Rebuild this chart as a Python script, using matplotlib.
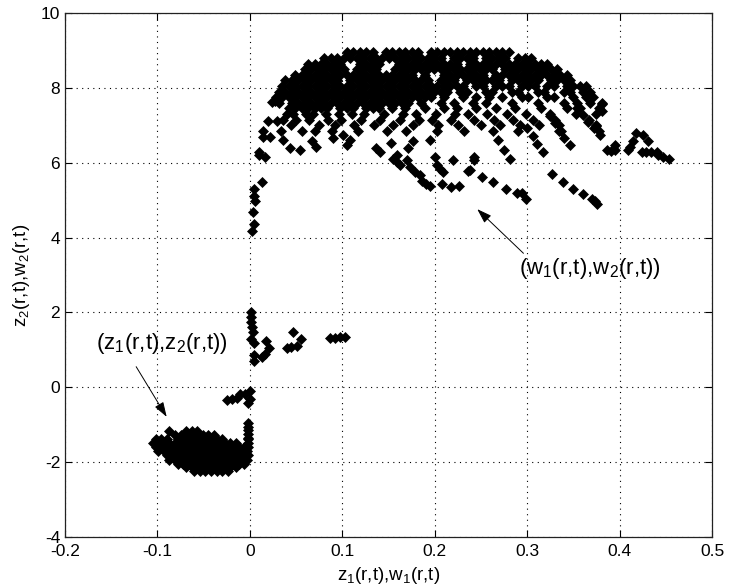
import matplotlib
matplotlib.use("Agg")
import matplotlib.pyplot as plt

plt.rcParams['font.family'] = ['Liberation Sans', 'DejaVu Sans']
plt.rcParams['mathtext.default'] = 'regular'

# ---------------- data ----------------
# upper cloud (w1, w2): rows of points, y value -> x values
upper_rows_y = [8.95, 8.80, 8.65, 8.50, 8.35, 8.20, 8.05, 7.90, 7.75, 7.60, 7.45, 7.30, 7.15, 7.00, 6.85]
upper_row_895 = [0.105, 0.112, 0.119, 0.126, 0.133, 0.147, 0.154, 0.161, 0.168, 0.175, 0.182, 0.196, 0.203,
                 0.210, 0.217, 0.224, 0.231, 0.238, 0.245, 0.252, 0.259, 0.266, 0.273, 0.280]
upper_row_880 = [0.0805, 0.0875, 0.0945, 0.1015, 0.1085, 0.1155, 0.1225, 0.1295, 0.1365, 0.1435, 0.1505,
                 0.1575, 0.1645, 0.1715, 0.1785, 0.1855, 0.1925, 0.1995, 0.2065, 0.2205, 0.2275,
                 0.2345, 0.2415, 0.2555, 0.2625, 0.2695, 0.2765, 0.2905, 0.2975, 0.3045]
upper_row_865 = [0.063, 0.070, 0.077, 0.084, 0.091, 0.098, 0.119, 0.126, 0.133, 0.140, 0.161,
                 0.168, 0.175, 0.182, 0.189, 0.196, 0.203, 0.210, 0.217, 0.224, 0.238, 0.245, 0.252, 0.259,
                 0.266, 0.273, 0.280, 0.287, 0.294, 0.301, 0.308, 0.315, 0.322]
upper_row_850 = [0.0595, 0.0665, 0.0735, 0.0805, 0.0875, 0.0945, 0.1015, 0.1155, 0.1225, 0.1295, 0.1365,
                 0.1575, 0.1645, 0.1715, 0.1785, 0.1855, 0.1925, 0.1995, 0.2065, 0.2135,
                 0.2205, 0.2275, 0.2345, 0.2415, 0.2485, 0.2555, 0.2625, 0.2765, 0.2835, 0.2905, 0.2975,
                 0.3045, 0.3115, 0.3185, 0.3255, 0.3325]
upper_row_835 = [0.049, 0.056, 0.063, 0.070, 0.077, 0.084, 0.091, 0.098, 0.105, 0.112, 0.119, 0.126, 0.133,
                 0.140, 0.147, 0.154, 0.161, 0.168, 0.175, 0.189, 0.210, 0.217, 0.224, 0.231,
                 0.238, 0.245, 0.252, 0.266, 0.273, 0.280, 0.287, 0.294, 0.301, 0.308, 0.315, 0.322, 0.329,
                 0.336, 0.343]
upper_row_820 = [0.0385, 0.0455, 0.0525, 0.0595, 0.0665, 0.0735, 0.0805, 0.0875, 0.0945, 0.1085, 0.1155,
                 0.1225, 0.1295, 0.1365, 0.1435, 0.1505, 0.1575, 0.1645, 0.1715, 0.1785, 0.1855, 0.1925,
                 0.2065, 0.2135, 0.2205, 0.2345, 0.2415, 0.2485, 0.2555, 0.2625, 0.2695, 0.2835,
                 0.2905, 0.2975, 0.3045, 0.3115, 0.3255, 0.3325, 0.3395, 0.3465]
upper_row_805 = [0.035, 0.042, 0.049, 0.056, 0.063, 0.070, 0.077, 0.084, 0.091, 0.098, 0.105, 0.112, 0.119,
                 0.126, 0.133, 0.140, 0.147, 0.154, 0.161, 0.168, 0.175, 0.182, 0.189, 0.196, 0.203, 0.210,
                 0.217, 0.224, 0.231, 0.245, 0.252, 0.266, 0.273, 0.280, 0.294, 0.301, 0.308, 0.322, 0.329,
                 0.343, 0.350, 0.357, 0.364]
upper_row_790 = [0.0315, 0.0385, 0.0455, 0.0525, 0.0595, 0.0665, 0.0735, 0.0805, 0.0875, 0.0945, 0.1015,
                 0.1085, 0.1155, 0.1225, 0.1295, 0.1365, 0.1435, 0.1505, 0.1575, 0.1645, 0.1715, 0.1785,
                 0.1855, 0.1925, 0.1995, 0.2065, 0.2135, 0.2275, 0.2345, 0.2555, 0.2625, 0.2835, 0.2905,
                 0.3115, 0.3185, 0.3395, 0.3465, 0.3605, 0.3675]
upper_row_775 = [0.028, 0.035, 0.042, 0.049, 0.056, 0.063, 0.070, 0.077, 0.084, 0.091, 0.098, 0.105, 0.112,
                 0.119, 0.126, 0.133, 0.140, 0.147, 0.154, 0.161, 0.168, 0.175, 0.182, 0.189, 0.196, 0.210,
                 0.231, 0.245, 0.259, 0.273, 0.294, 0.301, 0.322, 0.329, 0.350, 0.364, 0.371]
upper_row_760 = [0.0315, 0.0455, 0.0525, 0.0595, 0.0665, 0.0735, 0.0805, 0.0875, 0.0945, 0.1015, 0.1085,
                 0.1155, 0.1225, 0.1295, 0.1365, 0.1435, 0.1505, 0.1575, 0.1645, 0.1715, 0.1855, 0.2065,
                 0.2205, 0.2415, 0.2555, 0.2835, 0.3115, 0.3395, 0.3535, 0.3675, 0.3815]
upper_row_745 = [0.042, 0.049, 0.056, 0.063, 0.070, 0.077, 0.084, 0.098, 0.105, 0.112, 0.126, 0.133, 0.140,
                 0.154, 0.168, 0.189, 0.210, 0.224, 0.245, 0.266, 0.287, 0.315, 0.343, 0.357, 0.378]
upper_row_730 = [0.040, 0.047, 0.061, 0.068, 0.082, 0.096, 0.110, 0.124, 0.145, 0.166, 0.180, 0.201, 0.222,
                 0.236, 0.257, 0.278, 0.299, 0.325, 0.353, 0.374]
upper_row_715 = [0.036, 0.050, 0.064, 0.085, 0.099, 0.120, 0.141, 0.162, 0.183, 0.197, 0.218, 0.243, 0.264,
                 0.285, 0.306, 0.330, 0.367]
upper_row_700 = [0.045, 0.075, 0.092, 0.113, 0.134, 0.155, 0.176, 0.204, 0.225, 0.250, 0.271, 0.292, 0.313,
                 0.334, 0.374]
upper_row_685 = [0.034, 0.056, 0.070, 0.089, 0.117, 0.148, 0.169, 0.202, 0.232, 0.263, 0.290, 0.337, 0.378]

# sparse points of the (w1, w2) trajectories
w_sparse_x = [0.013, 0.004, 0.004, 0.006, 0.003, 0.004, 0.002, 0.010, 0.010, 0.016, 0.014, 0.014, 0.022,
              0.020, 0.029, 0.024, 0.027, 0.033, 0.072, 0.054, 0.043, 0.036, 0.067, 0.090, 0.101, 0.108,
              0.105, 0.137, 0.141, 0.155, 0.159, 0.162, 0.170, 0.173, 0.179, 0.184, 0.186, 0.191, 0.195,
              0.200, 0.202, 0.206, 0.209, 0.208, 0.218, 0.226, 0.220, 0.242, 0.238, 0.251, 0.242, 0.195,
              0.177, 0.171, 0.153, 0.159, 0.236, 0.263, 0.277, 0.289, 0.294, 0.299, 0.327, 0.339, 0.350,
              0.360, 0.370, 0.373, 0.376, 0.325, 0.330, 0.335, 0.340, 0.346, 0.354, 0.360, 0.366, 0.372,
              0.379, 0.300, 0.306, 0.311, 0.317, 0.269, 0.275, 0.281, 0.381, 0.381, 0.375, 0.386, 0.391,
              0.395, 0.395, 0.409, 0.411, 0.415, 0.418, 0.425, 0.431, 0.424, 0.429, 0.434, 0.440, 0.442,
              0.447, 0.453]
w_sparse_y = [5.48, 5.29, 5.11, 4.99, 4.69, 4.36, 4.17, 6.29, 6.21, 6.16, 6.70, 6.84, 6.70,
              7.11, 7.11, 7.61, 7.66, 7.85, 6.43, 6.34, 6.38, 6.62, 6.57, 6.66, 6.75, 6.62,
              6.48, 6.38, 6.29, 6.11, 6.20, 5.93, 6.07, 5.89, 5.75, 5.66, 5.52, 5.43, 5.39,
              6.16, 5.93, 5.84, 5.75, 5.43, 5.34, 5.39, 6.07, 6.07, 5.80, 5.61, 6.16, 6.61,
              6.57, 6.38, 6.52, 6.02, 5.79, 5.48, 5.29, 5.18, 5.18, 5.04, 5.70, 5.48, 5.29,
              5.16, 5.02, 4.98, 4.89, 7.25, 7.05, 6.85, 6.65, 6.48, 7.47, 7.28, 7.10, 6.92,
              6.75, 6.93, 6.72, 6.50, 6.29, 6.60, 6.35, 6.11, 7.57, 7.38, 6.98, 6.34, 6.32,
              6.48, 6.34, 6.34, 6.43, 6.57, 6.80, 6.75, 6.57, 6.29, 6.29, 6.29, 6.29, 6.20,
              6.16, 6.11]

# (z1, z2): points near the origin
z_sparse_x = [0.001, 0.001, 0.001, 0.002, 0.003, 0.001, 0.005, 0.018, 0.021, 0.016, 0.013, 0.005, 0.004,
              0.047, 0.055, 0.040, 0.045, 0.051, 0.087, 0.092, 0.098, 0.103,
              -0.025, -0.019, -0.014, -0.011, -0.005, -0.002, 0.000, 0.000,
              -0.002, -0.002, -0.002, -0.002, -0.002]
z_sparse_y = [2.02, 1.89, 1.75, 1.62, 1.48, 1.28, 1.17, 1.23, 1.04, 0.90, 0.80, 0.85, 0.71,
              1.48, 1.28, 1.04, 1.07, 1.10, 1.32, 1.32, 1.34, 1.35,
              -0.34, -0.31, -0.29, -0.19, -0.19, -0.43, -0.11, -0.30,
              -0.95, -1.05, -1.15, -1.25, -1.35]

# (z1, z2): dense blob, rows of points
blob_rows_y = [-1.17, -1.27, -1.38, -1.49, -1.60, -1.71, -1.82, -1.93, -2.04, -2.14, -2.24]
blob_row_117 = [-0.088, -0.069, -0.063, -0.057]
blob_row_127 = [-0.081, -0.075, -0.069, -0.063, -0.057, -0.051, -0.045, -0.039]
blob_row_138 = [-0.102, -0.096, -0.090, -0.078, -0.072, -0.066, -0.060, -0.054, -0.048, -0.042, -0.036,
                -0.030, -0.002]
blob_row_149 = [-0.105, -0.099, -0.093, -0.087, -0.081, -0.075, -0.069, -0.063, -0.057, -0.051, -0.045,
                -0.039, -0.033, -0.027, -0.021, -0.015, -0.002]
blob_row_160 = [-0.102, -0.096, -0.090, -0.084, -0.078, -0.072, -0.066, -0.060, -0.054, -0.048, -0.042,
                -0.036, -0.030, -0.024, -0.018, -0.012, -0.006, -0.002]
blob_row_171 = [-0.099, -0.093, -0.087, -0.081, -0.075, -0.069, -0.063, -0.057, -0.051, -0.045, -0.039,
                -0.033, -0.027, -0.021, -0.015, -0.009, -0.003]
blob_row_182 = [-0.090, -0.084, -0.078, -0.072, -0.066, -0.060, -0.054, -0.048, -0.042, -0.036, -0.030,
                -0.024, -0.018, -0.012, -0.006, -0.002]
blob_row_193 = [-0.087, -0.081, -0.075, -0.069, -0.063, -0.057, -0.051, -0.045, -0.039, -0.033, -0.027,
                -0.021, -0.015, -0.009, -0.003]
blob_row_204 = [-0.078, -0.072, -0.066, -0.060, -0.054, -0.048, -0.042, -0.036, -0.030, -0.024, -0.018,
                -0.012, -0.006]
blob_row_214 = [-0.069, -0.063, -0.057, -0.051, -0.045, -0.039, -0.033, -0.027, -0.021, -0.015]
blob_row_224 = [-0.060, -0.054, -0.048, -0.042, -0.036, -0.030, -0.024]

x_ticks = [-0.2, -0.1, 0, 0.1, 0.2, 0.3, 0.4, 0.5]
x_tick_labels = ['-0.2', '-0.1', '0', '0.1', '0.2', '0.3', '0.4', '0.5']
y_ticks = [-4, -2, 0, 2, 4, 6, 8, 10]
y_tick_labels = ['-4', '-2', '0', '2', '4', '6', '8', '10']

label_w = '(w$_1$(r,t),w$_2$(r,t))'
label_z = '(z$_1$(r,t),z$_2$(r,t))'
label_w_pos = (0.291, 3.17)
label_z_pos = (-0.166, 1.18)
arrow_w_tip = (0.246, 4.76)
arrow_w_tail = (0.296, 3.58)
arrow_z_tip = (-0.090, -0.79)
arrow_z_tail = (-0.123, 0.55)

# ---------------- figure ----------------
fig = plt.figure(figsize=(7.32, 5.87), dpi=100)
ax = fig.add_axes([65 / 732, 1 - 537 / 587, 647 / 732, 524 / 587])

upper_rows = [upper_row_895, upper_row_880, upper_row_865, upper_row_850, upper_row_835, upper_row_820,
              upper_row_805, upper_row_790, upper_row_775, upper_row_760, upper_row_745, upper_row_730,
              upper_row_715, upper_row_700, upper_row_685]
blob_rows = [blob_row_117, blob_row_127, blob_row_138, blob_row_149, blob_row_160, blob_row_171,
             blob_row_182, blob_row_193, blob_row_204, blob_row_214, blob_row_224]

mk = dict(linestyle='none', marker='D', markersize=4.9, markerfacecolor='black',
          markeredgecolor='black', markeredgewidth=0.5, zorder=3)

for yv, xs in zip(upper_rows_y, upper_rows):
    ax.plot(xs, [yv] * len(xs), **mk)
for yv, xs in zip(blob_rows_y, blob_rows):
    ax.plot(xs, [yv] * len(xs), **mk)
ax.plot(w_sparse_x, w_sparse_y, **mk)
ax.plot(z_sparse_x, z_sparse_y, **mk)

ax.set_xlim(-0.2, 0.5)
ax.set_ylim(-4, 10)
ax.set_xticks(x_ticks)
ax.set_xticklabels(x_tick_labels)
ax.set_yticks(y_ticks)
ax.set_yticklabels(y_tick_labels)
ax.tick_params(direction='in', length=5, width=0.8, top=True, right=True, labelsize=12.5, colors='black')
ax.tick_params(axis='x', pad=5)
ax.grid(True, color='black', linestyle=(0, (1, 4)), linewidth=0.8)
for s in ax.spines.values():
    s.set_linewidth(0.9)
    s.set_color('#222222')

ax.set_xlabel('z$_1$(r,t),w$_1$(r,t)', fontsize=13.5, labelpad=4)
ax.set_ylabel('z$_2$(r,t),w$_2$(r,t)', fontsize=13.5, labelpad=6)

ax.annotate('', xy=arrow_w_tip, xytext=arrow_w_tail,
            arrowprops=dict(arrowstyle='-|>,head_length=0.9,head_width=0.3', color='black', lw=0.7,
                            shrinkA=0, shrinkB=0))
ax.annotate('', xy=arrow_z_tip, xytext=arrow_z_tail,
            arrowprops=dict(arrowstyle='-|>,head_length=0.9,head_width=0.3', color='black', lw=0.7,
                            shrinkA=0, shrinkB=0))
ax.text(label_w_pos[0], label_w_pos[1], label_w, fontsize=16, va='center', ha='left')
ax.text(label_z_pos[0], label_z_pos[1], label_z, fontsize=16, va='center', ha='left')

fig.savefig('out.png', dpi=100)
